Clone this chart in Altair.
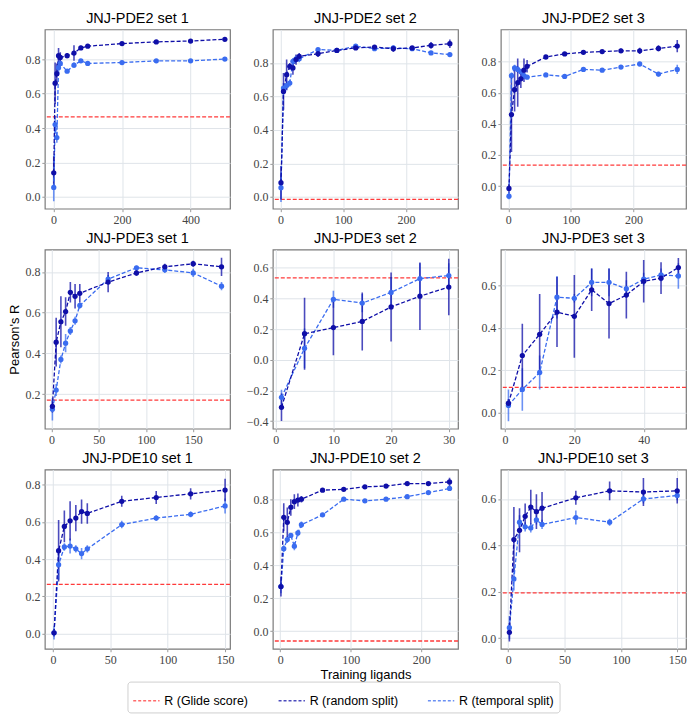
import altair as alt
import pandas as pd

titles = ["JNJ-PDE2 set 1", "JNJ-PDE2 set 2", "JNJ-PDE2 set 3",
          "JNJ-PDE3 set 1", "JNJ-PDE3 set 2", "JNJ-PDE3 set 3",
          "JNJ-PDE10 set 1", "JNJ-PDE10 set 2", "JNJ-PDE10 set 3"]

xs = [
    [1, 5, 10, 15, 20, 40, 60, 80, 100, 200, 300, 400, 500],
    [1, 5, 10, 15, 20, 25, 30, 60, 90, 120, 150, 180, 210, 240, 270],
    [1, 5, 10, 15, 20, 25, 30, 60, 90, 120, 150, 180, 210, 240, 270],
    [1, 5, 10, 15, 20, 25, 30, 60, 90, 120, 150, 180],
    [1, 5, 10, 15, 20, 25, 30],
    [1, 5, 10, 15, 20, 25, 30, 35, 40, 45, 50],
    [1, 5, 10, 15, 20, 25, 30, 60, 90, 120, 150],
    [1, 5, 10, 15, 20, 25, 30, 60, 90, 120, 150, 180, 210, 240],
    [1, 5, 10, 15, 20, 25, 30, 60, 90, 120, 150],
]

random_mean = [
    [.14, .66, .715, .82, .81, .82, .835, .865, .875, .89, .90, .905, .915],
    [.085, .63, .73, .78, .77, .82, .84, .855, .875, .89, .895, .885, .89, .905, .915],
    [-.015, .46, .62, .665, .69, .745, .77, .83, .85, .86, .865, .87, .87, .885, .90],
    [.14, .455, .555, .605, .70, .68, .695, .75, .795, .825, .84, .825],
    [-.31, .17, .21, .25, .345, .415, .475],
    [.045, .27, .37, .475, .455, .58, .515, .555, .62, .635, .685],
    [.005, .445, .575, .605, .62, .655, .645, .71, .73, .75, .77],
    [.27, .69, .66, .75, .785, .795, .80, .855, .86, .875, .88, .895, .895, .905],
    [.025, .425, .465, .525, .565, .545, .56, .605, .635, .63, .635],
]
random_err = [
    [.1, .12, .06, .045, .03, .015, .045, .012, .01, .01, .01, .01, .01],
    [.1, .11, .09, .02, .04, .03, .02, .02, .01, .01, .01, .02, .01, .02, .025],
    [.03, .24, .14, .155, .06, .075, .04, .01, .01, .01, .01, .015, .02, .02, .04],
    [.03, .12, .125, .07, .05, .06, .045, .05, .015, .015, .015, .045],
    [.09, .235, .18, .19, .225, .22, .185],
    [.02, .15, .19, .165, .195, .1, .165, .11, .1, .075, .045],
    [.02, .165, .085, .105, .07, .065, .055, .03, .035, .03, .06],
    [.06, .085, .09, .05, .045, .04, .02, .01, .01, .01, .01, .01, .01, .025],
    [.04, .14, .095, .055, .075, .075, .07, .03, .04, .06, .055],
]
temporal_mean = [
    [.055, .42, .345, .75, .775, .73, .765, .79, .775, .78, .79, .79, .80],
    [.055, .65, .665, .68, .81, .825, .825, .88, .875, .90, .885, .89, .885, .86, .85],
    [-.065, .71, .76, .75, .735, .71, .70, .715, .705, .75, .745, .765, .785, .72, .75],
    [.125, .22, .37, .45, .51, .56, .635, .765, .82, .81, .795, .73],
    [-.245, .075, .395, .37, .44, .53, .55],
    [.035, .11, .19, .545, .54, .615, .615, .585, .63, .65, .645],
    [.005, .37, .465, .47, .455, .43, .455, .585, .62, .64, .685],
    [.27, .50, .555, .58, .515, .595, .645, .705, .80, .79, .80, .815, .84, .865],
    [.045, .255, .50, .48, .475, .51, .49, .52, .50, .60, .615],
]
temporal_err = [
    [.08, .05, .03, .04, .02, .01, .015, .01, .01, .01, .01, .01, .01],
    [.085, .03, .03, .02, .02, .02, .02, .01, .01, .01, .01, .01, .01, .01, .01],
    [.02, .02, .02, .02, .02, .02, .01, .01, .01, .01, .01, .01, .01, .015, .03],
    [.055, .03, .02, .045, .02, .02, .015, .02, .01, .015, .02, .02],
    [.05, .13, .055, .06, .10, .10, .08],
    [.075, .1, .08, .1, .02, .065, .065, .04, .03, .03, .06],
    [.035, .08, .02, .04, .02, .03, .02, .02, .015, .015, .04],
    [.04, .02, .02, .015, .025, .02, .02, .01, .01, .01, .01, .01, .01, .015],
    [.05, .05, .03, .02, .02, .02, .02, .03, .015, .02, .02],
]
glide = [.465, -.015, .135, .17, .535, .12, .265, -.06, .195]

x_domains = [[-25, 515], [-12, 283], [-12, 284], [-7, 189], [-0.5, 31.6],
             [-1.2, 52.2], [-7, 154.3], [-10.5, 252], [-6.6, 157.8]]
y_domains = [[-0.068, 0.972], [-0.07, 1.0], [-0.145, 1.007], [0.03, 0.91], [-0.45, 0.72],
             [-0.075, 0.77], [-0.08, 0.88], [-0.107, 0.98], [-0.046, 0.727]]
x_ticks = [[0, 200, 400], [0, 100, 200], [0, 100, 200], [0, 50, 100, 150], [0, 10, 20, 30],
           [0, 20, 40], [0, 50, 100, 150], [0, 100, 200], [0, 50, 100, 150]]
y_ticks = [[0, .2, .4, .6, .8], [0, .2, .4, .6, .8], [0, .2, .4, .6, .8], [.2, .4, .6, .8],
           [-.4, -.2, 0, .2, .4, .6], [0, .2, .4, .6], [0, .2, .4, .6, .8], [0, .2, .4, .6, .8],
           [0, .2, .4, .6]]

series_names = ["R (Glide score)", "R (random split)", "R (temporal split)"]
series_colors = ["#ff3a3a", "#0f0fa8", "#3a6cf0"]

W, H = 186, 180
SERIF = "'Liberation Serif', 'DejaVu Serif', serif"
SANS = "Liberation Sans"


def panel(i):
    rows = []
    for name, means, errs in [(series_names[2], temporal_mean[i], temporal_err[i]),
                              (series_names[1], random_mean[i], random_err[i])]:
        for xv, m, e in zip(xs[i], means, errs):
            rows.append({"x": xv, "mean": m, "lo": m - e, "hi": m + e, "series": name})
    df = pd.DataFrame(rows)
    gdf = pd.DataFrame({"glide": [glide[i]], "series": [series_names[0]]})

    if i == 7:
        legend = alt.Legend(orient="none", legendX=-146, legendY=H + 33, direction="horizontal",
                            title=None, symbolType="stroke", symbolSize=700, symbolStrokeWidth=1.5,
                            symbolDash=[3, 2], labelFont=SANS, labelFontSize=12.5, labelColor="black",
                            columnPadding=26, padding=5, strokeColor="#d0d0d0", cornerRadius=3,
                            fillColor="white", labelLimit=300)
    else:
        legend = None
    color = alt.Color("series:N",
                      scale=alt.Scale(domain=series_names, range=series_colors),
                      legend=legend)

    common = dict(labelFont=SERIF, labelFontSize=12, labelColor="#444", tickColor="#999",
                  tickSize=3, domain=False, grid=True, gridColor="#dfe4e9", gridWidth=1,
                  titleFont=SANS, titleFontSize=13, titleFontWeight="normal", titleColor="black",
                  titlePadding=3)
    xaxis = alt.Axis(values=x_ticks[i], format="d", labelPadding=3,
                     title="Training ligands" if i == 7 else None, **common)
    yaxis = alt.Axis(values=y_ticks[i], format=".1f", labelPadding=2, minExtent=20, maxExtent=20,
                     title="Pearson's R" if i == 3 else None, **common)
    xenc = alt.X("x:Q", scale=alt.Scale(domain=x_domains[i], nice=False, zero=False), axis=xaxis)
    yscale = alt.Scale(domain=y_domains[i], nice=False, zero=False)

    rule = alt.Chart(gdf).mark_rule(strokeDash=[4, 2], strokeWidth=1.3, clip=True).encode(
        y=alt.Y("glide:Q", scale=yscale, axis=yaxis), color=color)
    base = alt.Chart(df)
    err = base.mark_rule(strokeWidth=1.6, opacity=0.75, clip=True).encode(
        x=xenc, y=alt.Y("lo:Q", scale=yscale, axis=yaxis), y2="hi:Q", color=color)
    line = base.mark_line(strokeDash=[4, 2], strokeWidth=1.3, clip=True).encode(
        x=xenc, y=alt.Y("mean:Q", scale=yscale, axis=yaxis), color=color,
        detail="series:N")
    pts = base.mark_circle(size=28, opacity=1, clip=True).encode(
        x=xenc, y=alt.Y("mean:Q", scale=yscale, axis=yaxis), color=color)

    return alt.layer(rule, err, line, pts).properties(
        width=W, height=H,
        title=alt.TitleParams(titles[i], font=SANS, fontSize=14.5, fontWeight="normal",
                              color="black", offset=3))


chart = alt.concat(*[panel(i) for i in range(9)], columns=3, spacing={"row": 41, "column": 43},
                   bounds="flush").resolve_scale(
    x="independent", y="independent", color="independent").resolve_legend(
    color="independent").properties(padding=0).configure_view(
    stroke="#7a7a7a", strokeWidth=1.2, fill="white")

chart.save("out.html", embed_options={"renderer": "svg", "actions": False})
